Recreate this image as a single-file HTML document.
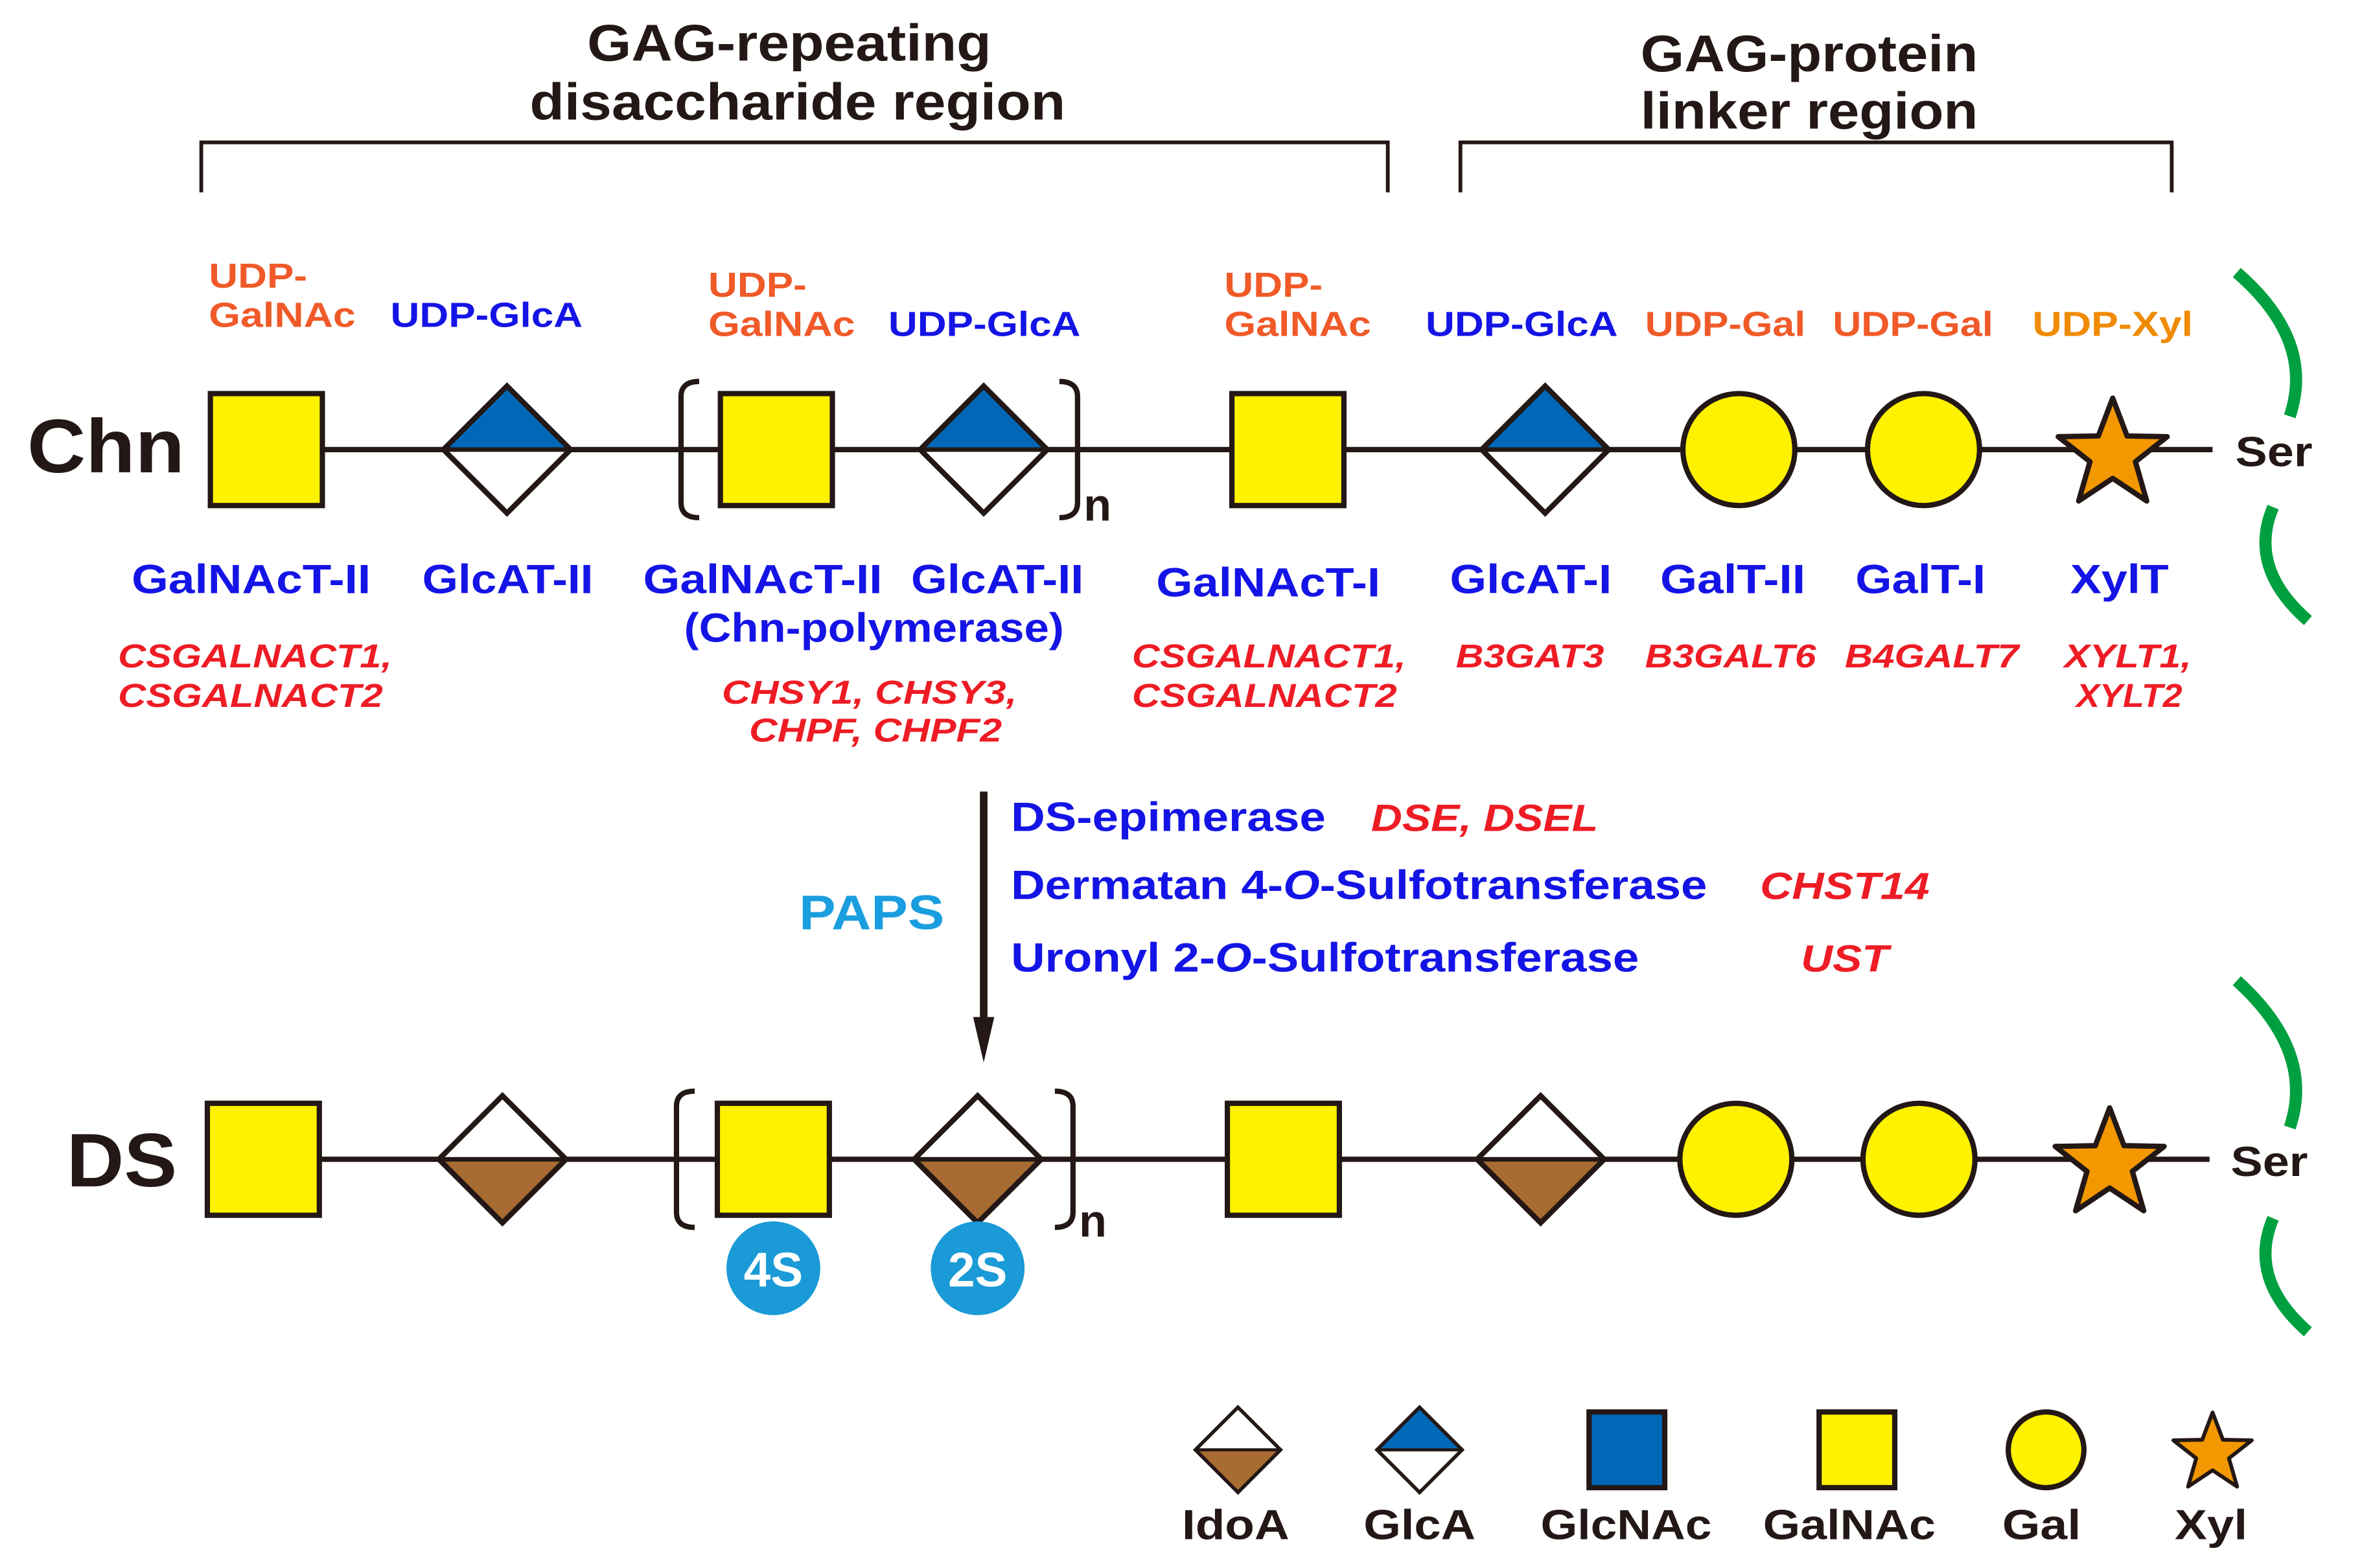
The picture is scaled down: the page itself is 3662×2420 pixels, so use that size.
<!DOCTYPE html>
<html><head><meta charset="utf-8"><style>
html,body{margin:0;padding:0;background:#fff;}
svg{display:block;}
text{font-family:"Liberation Sans",Arial,sans-serif;font-weight:bold;}
.o{fill:#f05a28;font-size:23px;}
.b{fill:#1414e6;font-size:27px;}
.r{fill:#ee1c25;font-size:22px;font-style:italic;}
.k{fill:#231815;}
</style></head><body>
<svg width="3662" height="2420" viewBox="0 0 1568 1036" xmlns="http://www.w3.org/2000/svg">
<defs>
<g id="sq"><rect x="-37" y="-37" width="74" height="74" fill="#fff200" stroke="#231815" stroke-width="3.5"/></g>
<g id="glca"><polygon points="-42,0 0,-42 42,0" fill="#0068b7"/><polygon points="-42,0 0,42 42,0" fill="#fff"/><polygon points="0,-42 42,0 0,42 -42,0" fill="none" stroke="#231815" stroke-width="3.5"/><line x1="-42" y1="0" x2="42" y2="0" stroke="#231815" stroke-width="3"/></g>
<g id="idoa"><polygon points="-42,0 0,42 42,0" fill="#a86b32"/><polygon points="-42,0 0,-42 42,0" fill="#fff"/><polygon points="0,-42 42,0 0,42 -42,0" fill="none" stroke="#231815" stroke-width="3.5"/><line x1="-42" y1="0" x2="42" y2="0" stroke="#231815" stroke-width="3"/></g>
<g id="ci"><circle r="37" fill="#fff200" stroke="#231815" stroke-width="3.5"/></g>
<g id="st"><polygon points="0,-37 9.5,-12 36,-11.5 15,5 22.5,31 0,16 -22.5,31 -15,5 -36,-11.5 -9.5,-12" fill="#f39800" stroke="#231815" stroke-width="3.5" stroke-linejoin="round"/></g>
</defs>

<text x="388" y="40" font-size="34" class="k" textLength="267" lengthAdjust="spacingAndGlyphs">GAG-repeating</text>
<text x="350" y="79" font-size="34" class="k" textLength="354" lengthAdjust="spacingAndGlyphs">disaccharide region</text>
<text x="1084" y="47" font-size="34" class="k" textLength="223" lengthAdjust="spacingAndGlyphs">GAG-protein</text>
<text x="1084" y="85" font-size="34" class="k" textLength="223" lengthAdjust="spacingAndGlyphs">linker region</text>
<path d="M133,127 V94 H917 V127 M965,127 V94 H1435 V127" fill="none" stroke="#231815" stroke-width="2.5"/>

<!-- Chn row -->
<text x="18" y="312" font-size="50" class="k" textLength="104" lengthAdjust="spacingAndGlyphs">Chn</text>
<line x1="213" y1="297" x2="1462" y2="297" stroke="#231815" stroke-width="3.5"/>
<use href="#sq" x="176" y="297"/>
<use href="#glca" x="335" y="297"/>
<use href="#sq" x="513" y="297"/>
<use href="#glca" x="650" y="297"/>
<use href="#sq" x="851" y="297"/>
<use href="#glca" x="1021" y="297"/>
<use href="#ci" x="1149" y="297"/>
<use href="#ci" x="1271" y="297"/>
<use href="#st" x="1396" y="300"/>
<path d="M462,252 Q450,252 450,262 V332 Q450,342 462,342" fill="none" stroke="#231815" stroke-width="3.5"/>
<path d="M700,252 Q712,252 712,262 V332 Q712,342 700,342" fill="none" stroke="#231815" stroke-width="3.5"/>
<text x="716" y="344" font-size="30" class="k">n</text>
<text x="1477" y="308" font-size="28" class="k" textLength="51" lengthAdjust="spacingAndGlyphs">Ser</text>
<path d="M1478,180 Q1530,225 1513,275 M1502,335 Q1485,375 1525,410" fill="none" stroke="#00a040" stroke-width="8"/>

<text x="138" y="190" class="o" textLength="65" lengthAdjust="spacingAndGlyphs">UDP-</text><text x="138" y="216" class="o" textLength="97" lengthAdjust="spacingAndGlyphs">GalNAc</text>
<text x="258" y="216" class="b" style="font-size:23px" textLength="127" lengthAdjust="spacingAndGlyphs">UDP-GlcA</text>
<text x="468" y="196" class="o" textLength="65" lengthAdjust="spacingAndGlyphs">UDP-</text><text x="468" y="222" class="o" textLength="97" lengthAdjust="spacingAndGlyphs">GalNAc</text>
<text x="587" y="222" class="b" style="font-size:23px" textLength="127" lengthAdjust="spacingAndGlyphs">UDP-GlcA</text>
<text x="809" y="196" class="o" textLength="65" lengthAdjust="spacingAndGlyphs">UDP-</text><text x="809" y="222" class="o" textLength="97" lengthAdjust="spacingAndGlyphs">GalNAc</text>
<text x="942" y="222" class="b" style="font-size:23px" textLength="127" lengthAdjust="spacingAndGlyphs">UDP-GlcA</text>
<text x="1087" y="222" class="o" textLength="106" lengthAdjust="spacingAndGlyphs">UDP-Gal</text>
<text x="1211" y="222" class="o" textLength="106" lengthAdjust="spacingAndGlyphs">UDP-Gal</text>
<text x="1343" y="222" class="o" style="fill:#f08a00" textLength="106" lengthAdjust="spacingAndGlyphs">UDP-Xyl</text>

<text x="87" y="392" class="b" textLength="158" lengthAdjust="spacingAndGlyphs">GalNAcT-II</text>
<text x="279" y="392" class="b" textLength="113" lengthAdjust="spacingAndGlyphs">GlcAT-II</text>
<text x="425" y="392" class="b" textLength="158" lengthAdjust="spacingAndGlyphs">GalNAcT-II</text>
<text x="602" y="392" class="b" textLength="114" lengthAdjust="spacingAndGlyphs">GlcAT-II</text>
<text x="452" y="424" class="b" textLength="251" lengthAdjust="spacingAndGlyphs">(Chn-polymerase)</text>
<text x="764" y="394" class="b" textLength="148" lengthAdjust="spacingAndGlyphs">GalNAcT-I</text>
<text x="958" y="392" class="b" textLength="107" lengthAdjust="spacingAndGlyphs">GlcAT-I</text>
<text x="1097" y="392" class="b" textLength="96" lengthAdjust="spacingAndGlyphs">GalT-II</text>
<text x="1226" y="392" class="b" textLength="86" lengthAdjust="spacingAndGlyphs">GalT-I</text>
<text x="1368" y="392" class="b" textLength="65" lengthAdjust="spacingAndGlyphs">XylT</text>

<text x="78" y="441" class="r" textLength="181" lengthAdjust="spacingAndGlyphs">CSGALNACT1,</text><text x="78" y="467" class="r" textLength="175" lengthAdjust="spacingAndGlyphs">CSGALNACT2</text>
<text x="477" y="465" class="r" textLength="195" lengthAdjust="spacingAndGlyphs">CHSY1, CHSY3,</text><text x="495" y="490" class="r" textLength="167" lengthAdjust="spacingAndGlyphs">CHPF, CHPF2</text>
<text x="748" y="441" class="r" textLength="181" lengthAdjust="spacingAndGlyphs">CSGALNACT1,</text><text x="748" y="467" class="r" textLength="175" lengthAdjust="spacingAndGlyphs">CSGALNACT2</text>
<text x="962" y="441" class="r" textLength="98" lengthAdjust="spacingAndGlyphs">B3GAT3</text>
<text x="1087" y="441" class="r" textLength="113" lengthAdjust="spacingAndGlyphs">B3GALT6</text>
<text x="1219" y="441" class="r" textLength="115" lengthAdjust="spacingAndGlyphs">B4GALT7</text>
<text x="1364" y="441" class="r" textLength="84" lengthAdjust="spacingAndGlyphs">XYLT1,</text><text x="1372" y="467" class="r" textLength="70" lengthAdjust="spacingAndGlyphs">XYLT2</text>

<!-- arrow -->
<line x1="650" y1="523" x2="650" y2="680" stroke="#231815" stroke-width="5"/>
<polygon points="643,672 657,672 650,702" fill="#231815"/>
<text x="528" y="614" font-size="32" fill="#1a9ee0" textLength="96" lengthAdjust="spacingAndGlyphs">PAPS</text>
<text x="668" y="549" class="b" textLength="208" lengthAdjust="spacingAndGlyphs">DS-epimerase</text>
<text x="906" y="549" class="r" style="font-size:25px" textLength="150" lengthAdjust="spacingAndGlyphs">DSE, DSEL</text>
<text x="668" y="594" class="b" textLength="460" lengthAdjust="spacingAndGlyphs">Dermatan 4-<tspan font-style="italic">O</tspan>-Sulfotransferase</text>
<text x="1163" y="594" class="r" style="font-size:25px" textLength="112" lengthAdjust="spacingAndGlyphs">CHST14</text>
<text x="668" y="642" class="b" textLength="415" lengthAdjust="spacingAndGlyphs">Uronyl 2-<tspan font-style="italic">O</tspan>-Sulfotransferase</text>
<text x="1190" y="642" class="r" style="font-size:25px" textLength="58" lengthAdjust="spacingAndGlyphs">UST</text>

<!-- DS row -->
<text x="44" y="784" font-size="50" class="k" textLength="73" lengthAdjust="spacingAndGlyphs">DS</text>
<line x1="211" y1="766" x2="1460" y2="766" stroke="#231815" stroke-width="3.5"/>
<use href="#sq" x="174" y="766"/>
<use href="#idoa" x="332" y="766"/>
<use href="#sq" x="511" y="766"/>
<use href="#idoa" x="646" y="766"/>
<use href="#sq" x="848" y="766"/>
<use href="#idoa" x="1018" y="766"/>
<use href="#ci" x="1147" y="766"/>
<use href="#ci" x="1268" y="766"/>
<use href="#st" x="1394" y="769"/>
<path d="M459,721 Q447,721 447,731 V801 Q447,811 459,811" fill="none" stroke="#231815" stroke-width="3.5"/>
<path d="M697,721 Q709,721 709,731 V801 Q709,811 697,811" fill="none" stroke="#231815" stroke-width="3.5"/>
<text x="713" y="817" font-size="30" class="k">n</text>
<text x="1474" y="777" font-size="28" class="k" textLength="51" lengthAdjust="spacingAndGlyphs">Ser</text>
<path d="M1478,648 Q1530,695 1513,745 M1502,805 Q1485,845 1525,880" fill="none" stroke="#00a040" stroke-width="8"/>
<circle cx="511" cy="838" r="31" fill="#1a9ad6"/>
<text x="511" y="850" font-size="32" fill="#fff" text-anchor="middle">4S</text>
<circle cx="646" cy="838" r="31" fill="#1a9ad6"/>
<text x="646" y="850" font-size="32" fill="#fff" text-anchor="middle">2S</text>

<!-- legend -->
<g transform="translate(818,958) scale(0.67)"><use href="#idoa"/></g>
<g transform="translate(938,958) scale(0.67)"><use href="#glca"/></g>
<rect x="1050" y="933" width="50" height="50" fill="#0068b7" stroke="#231815" stroke-width="3.5"/>
<rect x="1202" y="933" width="50" height="50" fill="#fff200" stroke="#231815" stroke-width="3.5"/>
<circle cx="1352" cy="958" r="25" fill="#fff200" stroke="#231815" stroke-width="3.5"/>
<g transform="translate(1462,960) scale(0.72)"><use href="#st"/></g>
<g font-size="28" class="k">
<text x="781" y="1017" textLength="71" lengthAdjust="spacingAndGlyphs">IdoA</text>
<text x="901" y="1017" textLength="74" lengthAdjust="spacingAndGlyphs">GlcA</text>
<text x="1018" y="1017" textLength="113" lengthAdjust="spacingAndGlyphs">GlcNAc</text>
<text x="1165" y="1017" textLength="114" lengthAdjust="spacingAndGlyphs">GalNAc</text>
<text x="1323" y="1017" textLength="52" lengthAdjust="spacingAndGlyphs">Gal</text>
<text x="1437" y="1017" textLength="48" lengthAdjust="spacingAndGlyphs">Xyl</text>
</g>
</svg>
</body></html>
